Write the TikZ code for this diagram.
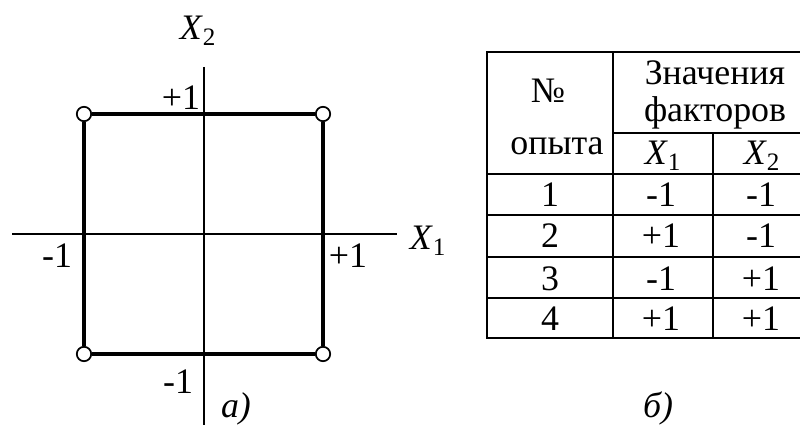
\documentclass[tikz,border=0pt]{standalone}
\usepackage{fontspec}
\setmainfont{Liberation Serif}
\newcommand{\xvar}[1]{\textit{X}\textsubscript{#1}}
\begin{document}
\begin{tikzpicture}[x=0.025cm,y=-0.025cm,
        axis/.style={line width=1.3pt},
        edge/.style={line width=2.3pt},
        point/.style={circle,draw,fill=white,line width=1.2pt,minimum size=0.36cm,inner sep=0pt},
        rule/.style={line width=2pt},
        lbl/.style={anchor=base,inner sep=0pt,font=\fontsize{25.5}{30}\selectfont}]
        \useasboundingbox (0,0) rectangle (800,425);

        % Axes
        \coordinate (x left) at (12,234);
        \coordinate (x right) at (397,234);
        \coordinate (y top) at (204,67);
        \coordinate (y bot) at (204,425);
        \draw[axis] (x left) -- (x right);
        \draw[axis] (y top) -- (y bot);

        % Design points
        \node[point] (p1) at (84,354) {};
        \node[point] (p2) at (323,354) {};
        \node[point] (p3) at (84,114) {};
        \node[point] (p4) at (323,114) {};
        \draw[edge] (p1) -- (p2) -- (p4) -- (p3) -- (p1);

        % Axis labels
        \node[lbl] (x2) at (198,40) {\xvar{2}};
        \node[lbl] (x1) at (428,250) {\xvar{1}};
        \node[lbl] (top) at (181,110) {+1};
        \node[lbl] (left) at (57,268) {-1};
        \node[lbl] (right) at (348,268) {+1};
        \node[lbl] (bot) at (178,393) {-1};
        \node[lbl] (cap a) at (236,417) {\textit{а)}};

        % Table grid
        \draw[rule] (487,52) rectangle (812,338);
        \draw[rule] (613,52) -- (613,338);
        \draw[rule] (713,133) -- (713,338);
        \draw[rule] (613,133) -- (812,133);
        \foreach \y in {174,215,257,298}
            \draw[rule] (487,\y) -- (812,\y);

        % Table header
        \node[lbl] (no) at (548,103) {№};
        \node[lbl] (run) at (557,155) {опыта};
        \node[lbl] (val) at (715,85) {Значения};
        \node[lbl] (fac) at (715,122) {факторов};
        \node[lbl] (h1) at (663,165) {\xvar{1}};
        \node[lbl] (h2) at (762,165) {\xvar{2}};

        % Table rows
        \foreach \y/\n/\a/\b in {207/1/-1/-1, 248/2/+1/-1, 290/3/-1/+1, 330/4/+1/+1} {
            \node[lbl] (n\n) at (550,\y) {\n};
            \node[lbl] (a\n) at (661,\y) {\a};
            \node[lbl] (b\n) at (761,\y) {\b};
        }

        \node[lbl] (cap b) at (658,417) {\textit{б)}};
    \end{tikzpicture}
\end{document}
